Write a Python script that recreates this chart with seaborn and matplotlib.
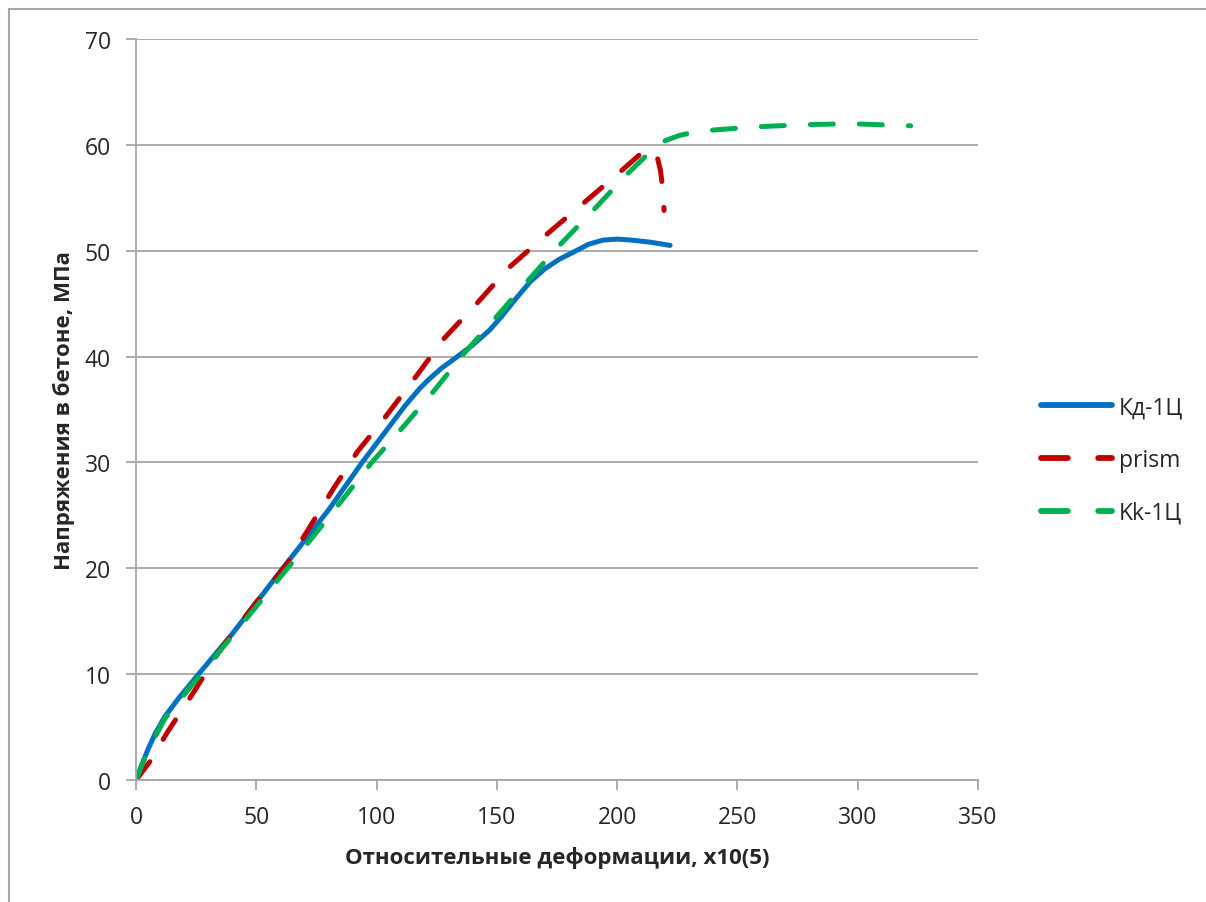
import pandas as pd
import matplotlib.pyplot as plt
import seaborn as sns
from matplotlib.patches import Rectangle

# Data
kd_x = [0, 2, 5, 8, 12, 18, 26, 40, 61, 80, 94, 106, 112, 118, 122, 127, 133, 140, 147, 152, 158, 164,
        170, 176, 183, 188, 194, 200, 206, 214, 222]
kd_y = [0, 1.2, 2.9, 4.4, 6.0, 7.8, 10, 13.8, 20, 25.5, 30, 33.6, 35.4, 37.0, 37.9, 38.9, 39.9, 41.1, 42.5,
        43.8, 45.5, 47.1, 48.3, 49.2, 50.0, 50.6, 51.0, 51.1, 51.0, 50.8, 50.5]

prism_x = [0, 6, 13, 24, 35, 50, 63, 82, 92, 104, 116, 128, 142, 155, 171, 185, 200, 207, 211, 214, 216.5,
           218, 219, 219.5]
prism_y = [0, 1.8, 4.5, 8.3, 12.3, 16.8, 20.5, 27.5, 31, 34.4, 38, 41.7, 45.1, 48.4, 51.6, 54.3, 57.2, 58.6,
           59.4, 59.6, 59.0, 57.6, 55.8, 53.8]

kk_x = [0, 5, 12, 27, 45, 63, 80, 98, 112, 124, 136, 150, 163, 176, 190, 204, 214, 220, 226, 232, 240,
        257, 277, 297, 322]
kk_y = [0, 2.8, 5.8, 10, 15, 20, 24.8, 30, 33.6, 36.8, 40.2, 43.8, 47.2, 50.5, 53.8, 57.2, 59.4, 60.4,
        60.9, 61.2, 61.4, 61.7, 61.9, 62.0, 61.8]

x_ticks = [0, 50, 100, 150, 200, 250, 300, 350]
y_ticks = [0, 10, 20, 30, 40, 50, 60, 70]

sns.set_style('white')
plt.rcParams['font.family'] = ['Open Sans', 'DejaVu Sans']

fig = plt.figure(figsize=(12.06, 9.03), dpi=100)
ax = fig.add_axes([136 / 1206, 1 - 781 / 903, (978 - 136) / 1206, (781 - 40) / 903])

# outer chart frame (only left and top edges are visible in the crop)
fig.patches.append(Rectangle((9 / 1206, -0.2), 1.2, 1 - 10 / 903 + 0.2, transform=fig.transFigure,
                             fill=False, edgecolor='#a6a6a6', linewidth=1.5))

lw = 3.6
dash = (4.6, 5.2)
sns.lineplot(x=kd_x, y=kd_y, ax=ax, color='#0070C0', linewidth=lw, sort=False,
             label='Кд-1Ц', solid_capstyle='round', solid_joinstyle='round')
sns.lineplot(x=prism_x, y=prism_y, ax=ax, color='#C00000', linewidth=lw, sort=False,
             label='prism', linestyle=(0, dash), dash_capstyle='round', dash_joinstyle='round')
sns.lineplot(x=kk_x, y=kk_y, ax=ax, color='#00B050', linewidth=lw, sort=False,
             label='Kk-1Ц', linestyle=(0, dash), dash_capstyle='round', dash_joinstyle='round')

ax.set_xlim(0, 350)
ax.set_ylim(0, 70)
ax.set_xticks(x_ticks)
ax.set_yticks(y_ticks)
ax.grid(axis='y', color='#a6a6a6', linewidth=1.3)
ax.set_axisbelow(True)
for side in ['top', 'right']:
    ax.spines[side].set_visible(False)
for side in ['left', 'bottom']:
    ax.spines[side].set_color('#a6a6a6')
    ax.spines[side].set_linewidth(1.3)
ax.tick_params(axis='both', direction='out', length=7, width=1.3, color='#a6a6a6',
               labelsize=16.5, labelcolor='#262626', left=True, bottom=True)
ax.tick_params(axis='x', pad=11)
ax.tick_params(axis='y', pad=11)

ax.set_xlabel('Относительные деформации, x10(5)', fontsize=16, fontweight='bold', labelpad=12)
ax.set_ylabel('Напряжения в бетоне, МПа', fontsize=16, fontweight='bold', labelpad=7)

leg = ax.legend(loc='center left', bbox_to_anchor=(1.050, 0.432), frameon=False, fontsize=16.5,
                handlelength=3.1, labelspacing=1.25, handletextpad=0.3)
for line in leg.get_lines():
    line.set_linewidth(4.2)

fig.savefig('out.png', dpi=100)
